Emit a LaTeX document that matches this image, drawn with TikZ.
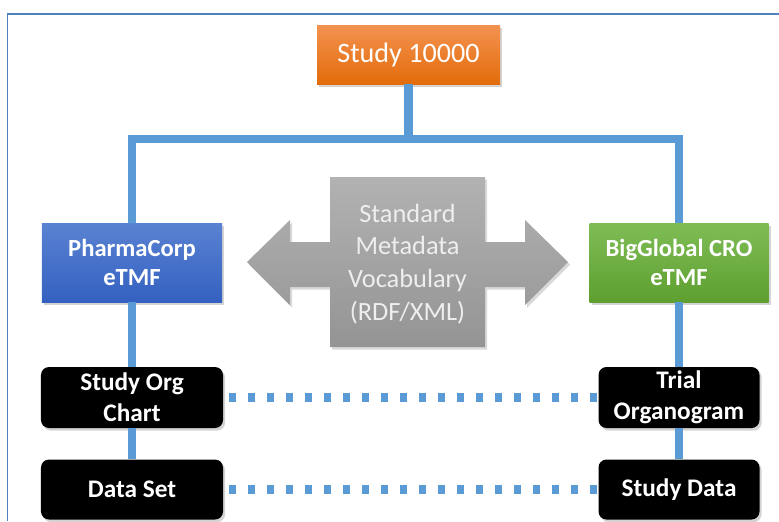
\documentclass[tikz,border=0pt]{standalone}
\usepackage{fontspec}
\setmainfont{Carlito}
\usetikzlibrary{positioning,shadows}

\definecolor{trunkblue}{HTML}{5B9BD5}
\definecolor{frameblue}{HTML}{4F81BD}
\definecolor{orangetop}{HTML}{F39250}
\definecolor{orangebot}{HTML}{E36C0A}
\definecolor{bluetop}{HTML}{5A82D2}
\definecolor{bluebot}{HTML}{3461C1}
\definecolor{greentop}{HTML}{7EBD55}
\definecolor{greenbot}{HTML}{5E9F30}
\definecolor{greytop}{HTML}{B2B2B2}
\definecolor{greybot}{HTML}{949494}
\definecolor{vocabtext}{HTML}{EEEEEE}

\begin{document}
\begin{tikzpicture}[x=0.2mm,y=-0.2mm,
    box/.style={rectangle,inner sep=0pt,text=white,align=center,
        drop shadow={shadow xshift=1.2pt,shadow yshift=-1.5pt,opacity=0.35}},
    topbox/.style={box,top color=orangetop,bottom color=orangebot,
        minimum width=36.6mm,minimum height=11.8mm,
        font=\fontsize{16}{19}\selectfont},
    etmfbox/.style={box,minimum width=36mm,minimum height=15.8mm,
        font=\bfseries\fontsize{14}{16}\selectfont},
    itembox/.style={box,fill=black,rounded corners=1.6mm,minimum height=12.2mm,
        font=\bfseries\fontsize{14.4}{17.6}\selectfont},
    trunk/.style={trunkblue,line width=4.8pt,line join=miter},
    link/.style={trunkblue,line width=5pt,dash pattern=on 4pt off 6.8pt,
        shorten <=1.2mm}
]

    % Fix the picture size to the reference
    \useasboundingbox (0,0) rectangle (779,521);

    % Frame round the figure
    \draw[frameblue,line width=0.9pt] (7.5,521) |- (779,14);

    % The study at the top
    \node[topbox] (study) at (408.5,54.5) {Study 10000};

    % The two eTMF systems
    \node[etmfbox,top color=bluetop,bottom color=bluebot] (pharma) at (132,262.5)
        {PharmaCorp\\eTMF};
    \node[etmfbox,top color=greentop,bottom color=greenbot,minimum width=35.8mm]
        (cro) at (679,262.5) {BigGlobal CRO\\eTMF};

    % Double arrow between them
    \draw[top color=greytop,bottom color=greybot,draw=none,
        drop shadow={shadow xshift=1.2pt,shadow yshift=-1.5pt,opacity=0.3}]
        (247,262) -- (290,220) -- (290,242) -- (330,242) -- (330,177)
        -- (485,177) -- (485,242) -- (525,242) -- (525,220) -- (568,262)
        -- (525,305) -- (525,287) -- (485,287) -- (485,347) -- (330,347)
        -- (330,287) -- (290,287) -- (290,305) -- cycle;
    \node[text=vocabtext,align=center,font=\fontsize{15}{18.7}\selectfont]
        (vocab) at (407.5,264) {Standard\\Metadata\\Vocabulary\\(RDF/XML)};

    % Documents in each eTMF
    \node[itembox,minimum width=36.4mm] (orgchart) at (132,397.5) {Study Org\\Chart};
    \node[itembox,minimum width=36.4mm,minimum height=12mm] (dataset) at (132,489.5)
        {Data Set};
    \node[itembox,minimum width=32.2mm] (organogram) at (679,397.5)
        {Trial\\Organogram};
    \node[itembox,minimum width=32.2mm,minimum height=12mm] (studydata) at (679,489.5)
        {Study Data};

    % Tree lines
    \coordinate (split) at (study.south |- 0,139);
    \draw[trunk] (study) -- (split);
    \draw[trunk] (pharma) |- (split) -| (cro);
    \draw[trunk] (pharma) -- (orgchart);
    \draw[trunk] (orgchart) -- (dataset);
    \draw[trunk] (cro) -- (organogram);
    \draw[trunk] (organogram) -- (studydata);

    % Matching documents
    \draw[link] (orgchart) -- (organogram);
    \draw[link] (dataset) -- (studydata);

\end{tikzpicture}
\end{document}
